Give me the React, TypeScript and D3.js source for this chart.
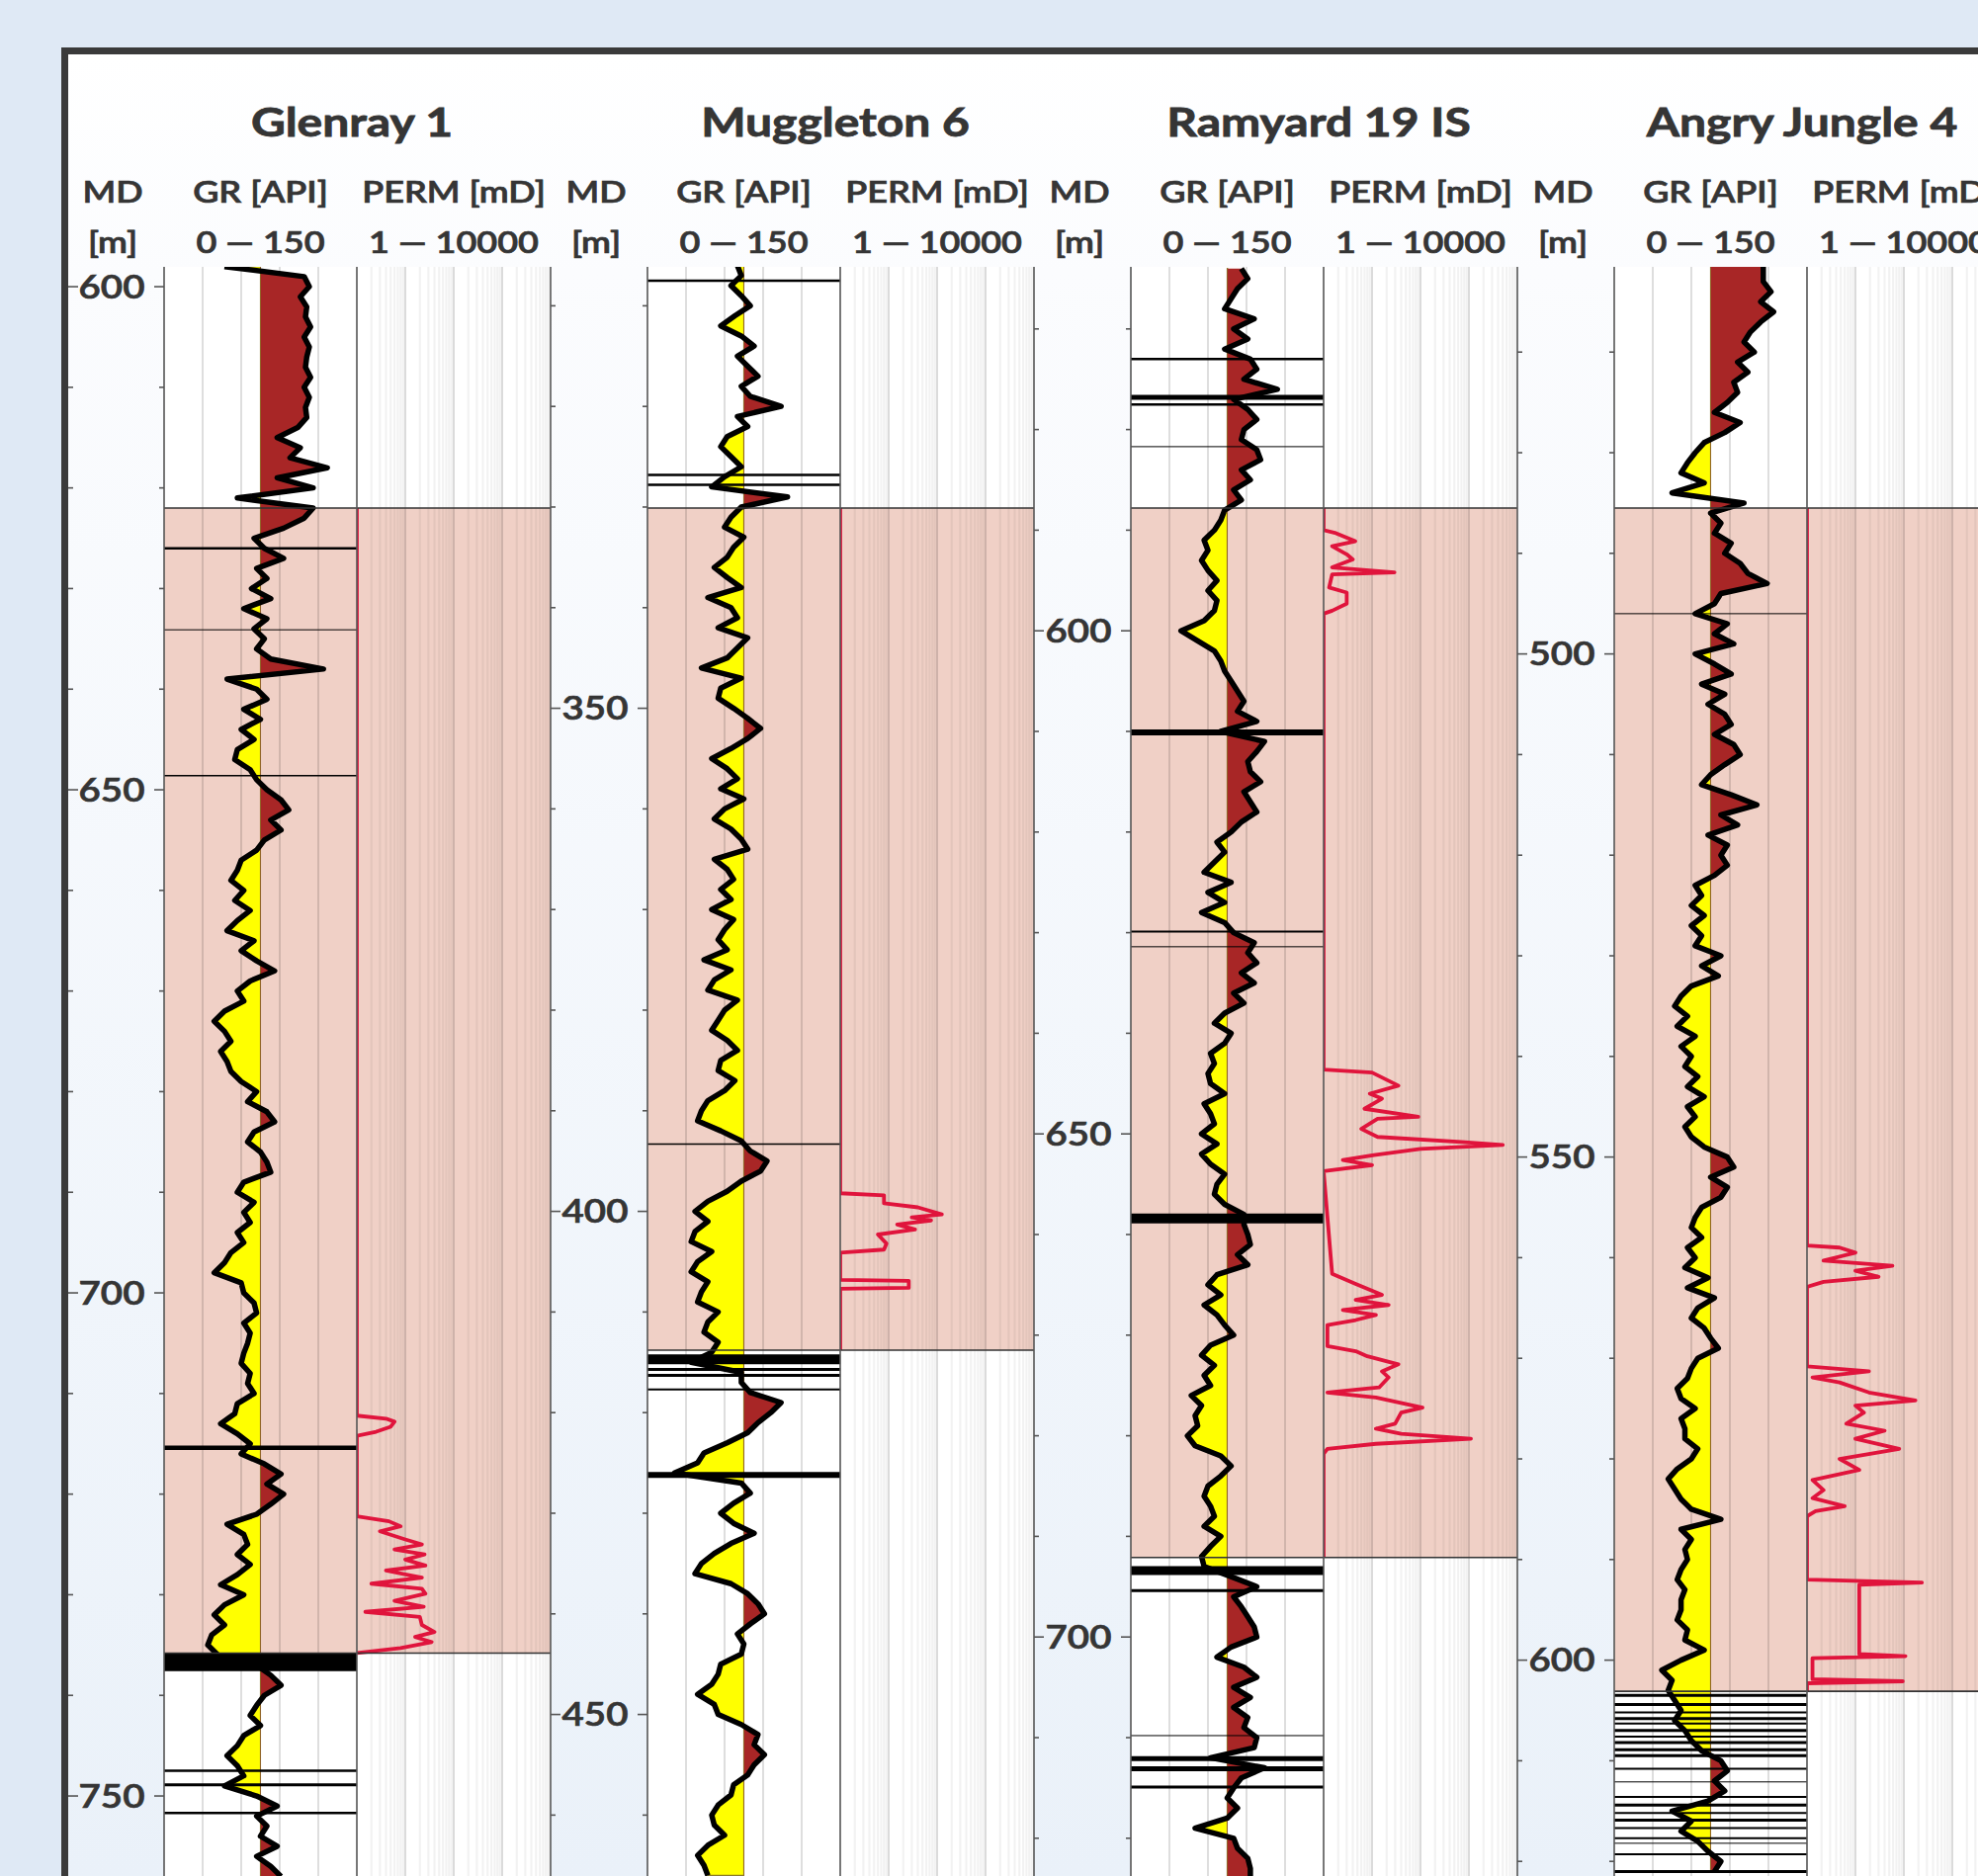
import React from "react";
import * as d3 from "d3";

// ---------------- data ----------------
const wellNames = ["Glenray 1", "Muggleton 6", "Ramyard 19 IS", "Angry Jungle 4"];
// depth (m MD) of the flattened reservoir top, and of its base
const zoneTopDepth = [622.0, 330.1, 587.8, 485.5];
const zoneBaseDepth = [735.8, 413.8, 692.1, 603.1];
// GR logs sampled every metre, starting at these depths
const grStartDepth = [598, 306, 564, 461];
const grStep = 1;

const glenrayGR = [
  47, 109, 113, 106, 111, 110, 114, 109, 113, 111, 110, 114, 109, 113, 110, 111, 104, 88, 106, 98,
  127, 88, 116, 57, 116, 109, 93, 70, 78, 93, 72, 80, 68, 83, 62, 80, 70, 78, 72, 83,
  124, 49, 72, 80, 62, 75, 60, 70, 57, 55, 67, 72, 80, 91, 97, 83, 91, 78, 72, 60,
  57, 52, 62, 55, 67, 57, 49, 70, 60, 72, 86, 67, 57, 62, 47, 39, 47, 52, 44, 49,
  52, 60, 72, 65, 80, 86, 70, 65, 75, 80, 83, 62, 57, 70, 62, 67, 57, 62, 52, 47,
  39, 60, 62, 70, 72, 62, 67, 65, 62, 60, 67, 65, 70, 57, 55, 44, 57, 67, 60, 78,
  91, 80, 93, 83, 72, 49, 62, 65, 57, 67, 57, 44, 62, 47, 39, 47, 37, 34, 42, 72,
  83, 91, 78, 72, 67, 75, 62, 57, 49, 57, 62, 47, 72, 88, 72, 80, 75, 88, 72, 83, 91,
];
const muggletonGR = [
  70, 73, 65, 73, 80, 68, 57, 73, 83, 70, 78, 86, 73, 80, 104, 70, 78, 62, 57, 65,
  73, 60, 50, 109, 73, 65, 60, 75, 67, 62, 52, 62, 73, 47, 65, 70, 55, 78, 70, 62,
  42, 73, 57, 55, 67, 78, 88, 78, 65, 50, 62, 70, 57, 75, 60, 52, 65, 73, 78, 52,
  62, 67, 57, 65, 50, 67, 60, 55, 62, 44, 65, 52, 47, 70, 60, 55, 50, 62, 70, 57,
  55, 68, 60, 47, 42, 39, 57, 73, 80, 93, 88, 73, 62, 47, 37, 47, 37, 34, 50, 39,
  34, 47, 42, 39, 55, 47, 44, 55, 50, 34, 73, 73, 80, 104, 96, 86, 78, 62, 44, 39,
  21, 73, 80, 67, 57, 67, 83, 65, 52, 42, 37, 65, 78, 86, 91, 80, 70, 75, 73, 57,
  55, 50, 39, 52, 55, 73, 86, 83, 91, 83, 78, 67, 65, 55, 50, 52, 60, 47, 39, 44, 47,
];
const ramyardGR = [
  86, 91, 83, 78, 73, 96, 80, 91, 73, 93, 98, 88, 114, 80, 91, 98, 88, 86, 98, 101,
  86, 93, 80, 86, 73, 70, 65, 57, 60, 55, 60, 67, 60, 67, 65, 57, 39, 52, 65, 70,
  73, 78, 83, 88, 83, 98, 70, 104, 98, 91, 93, 101, 88, 93, 98, 86, 78, 67, 73, 65,
  57, 78, 60, 73, 55, 73, 80, 96, 91, 98, 86, 96, 80, 88, 73, 65, 78, 73, 62, 65,
  60, 62, 73, 57, 62, 65, 55, 67, 55, 62, 73, 67, 65, 73, 88, 88, 91, 93, 83, 91,
  67, 60, 70, 57, 67, 73, 80, 62, 55, 65, 57, 62, 47, 55, 50, 52, 44, 50, 70, 78,
  70, 60, 57, 62, 65, 57, 70, 62, 55, 57, 78, 98, 80, 86, 91, 96, 98, 78, 67, 88,
  98, 80, 93, 80, 91, 88, 98, 96, 62, 104, 86, 80, 75, 83, 75, 50, 80, 83, 91, 93, 93,
];
const angryJungleGR = [
  116, 116, 116, 122, 114, 124, 114, 106, 101, 109, 96, 104, 93, 96, 88, 78, 98, 86, 70, 63,
  57, 52, 70, 45, 101, 75, 83, 78, 91, 86, 98, 104, 119, 83, 78, 63, 88, 78, 93, 63,
  78, 91, 68, 86, 73, 86, 91, 78, 93, 98, 86, 75, 68, 91, 111, 83, 96, 73, 88, 83,
  88, 78, 63, 68, 60, 70, 60, 68, 63, 83, 68, 81, 60, 52, 47, 57, 49, 63, 52, 60,
  55, 65, 57, 70, 57, 63, 55, 60, 70, 88, 93, 75, 88, 83, 68, 63, 60, 68, 57, 63,
  55, 73, 57, 78, 65, 60, 70, 75, 81, 65, 60, 57, 49, 52, 63, 52, 55, 55, 65, 60,
  49, 42, 47, 52, 60, 83, 52, 60, 55, 57, 52, 49, 55, 52, 52, 49, 57, 55, 70, 52,
  37, 45, 42, 47, 52, 47, 55, 60, 68, 83, 88, 78, 86, 73, 45, 60, 52, 65, 73, 83, 78,
];

// permeability curves: [depth m, perm mD]
const glenrayPerm: [number, number][] = [
  [622.0, 1], [712.2, 1], [712.5, 4], [712.8, 6], [713.3, 5], [713.8, 2.5], [714.2, 1], [722.2, 1],
  [722.7, 4.6], [723.2, 8], [723.7, 3], [724.5, 10], [725.0, 22], [725.5, 6], [726.0, 25], [726.5, 10],
  [727.1, 26], [727.6, 4], [728.3, 22], [728.9, 2], [729.4, 22], [729.9, 26], [730.6, 6], [731.2, 24],
  [731.7, 1.5], [732.2, 20], [733.0, 22], [733.7, 40], [734.2, 16], [734.7, 35], [735.3, 8], [735.8, 1],
];
const muggletonPerm: [number, number][] = [
  [330.1, 1], [398.2, 1], [398.4, 8], [399.2, 8], [399.6, 40], [400.3, 125], [400.6, 30], [400.9, 75],
  [401.3, 15], [401.8, 35], [402.3, 6], [403.2, 9], [403.8, 8], [404.1, 1], [406.8, 1], [406.9, 26],
  [407.6, 26], [407.7, 1], [413.8, 1],
];
const ramyardPerm: [number, number][] = [
  [587.8, 1], [590.0, 1], [590.3, 1.8], [591.1, 4.5], [591.6, 1.5], [592.4, 3], [592.9, 4], [593.7, 1.5],
  [594.2, 29], [594.4, 1.5], [595.7, 1.3], [596.2, 3], [597.3, 3], [598.0, 1.5], [598.3, 1],
  [643.6, 1], [643.9, 10], [645.2, 35], [646.0, 9], [646.5, 16], [647.5, 7], [648.3, 90], [648.5, 13],
  [649.5, 6], [650.3, 13], [650.8, 700], [651.1, 5000], [651.5, 100], [652.1, 11], [652.6, 2.5],
  [653.1, 10], [653.7, 1], [663.9, 1.5], [664.9, 4.6], [666.0, 16], [666.5, 4.6], [667.0, 22],
  [667.5, 2.5], [668.0, 12], [668.5, 4.6], [669.0, 1.2], [671.1, 1.2], [671.6, 4.6], [672.1, 8],
  [672.9, 35], [673.6, 16], [674.2, 22], [675.2, 14], [675.7, 1.2], [676.2, 12], [677.2, 110],
  [677.7, 40], [678.8, 30], [679.3, 12], [679.8, 40], [680.3, 1100], [680.8, 12], [681.3, 1.2],
  [681.8, 1], [692.1, 1],
];
const angryJunglePerm: [number, number][] = [
  [485.5, 1], [558.8, 1], [559.0, 4.7], [559.5, 10], [560.3, 2.2], [560.8, 58], [561.3, 10], [561.9, 30],
  [562.4, 2.2], [562.9, 1], [570.8, 1], [571.3, 19], [571.9, 1.3], [572.4, 4.7], [573.4, 19], [574.2, 173],
  [574.7, 10], [575.4, 15], [576.5, 6.5], [577.2, 40], [578.0, 10], [579.0, 80], [580.0, 4.7], [581.1, 12],
  [582.1, 1.3], [583.1, 2.2], [583.9, 1.3], [584.7, 6], [585.2, 1.5], [585.7, 1], [592.0, 1], [592.3, 236],
  [592.5, 12], [599.4, 12], [599.6, 108], [599.8, 1.3], [601.9, 1.3], [602.1, 95], [602.3, 1], [603.1, 1],
];

// horizontal marker lines in the GR track: [depth m, thickness px]
const glenrayMarkers: [number, number][] = [
  [626.0, 2.5], [634.1, 1], [648.6, 1.5], [715.4, 4.5], [736.7, 18], [747.5, 2.5], [748.9, 3], [751.7, 2.5],
];
const muggletonMarkers: [number, number][] = [
  [307.5, 2.5], [326.8, 2.5], [327.8, 2.5], [393.3, 1.5], [414.7, 10], [415.7, 3], [416.3, 3], [417.7, 2], [426.2, 6],
];
const ramyardMarkers: [number, number][] = [
  [573.0, 2.5], [576.8, 5], [577.5, 2.5], [581.7, 1], [610.1, 6], [629.9, 2], [631.4, 1], [658.4, 10],
  [693.4, 9], [695.4, 3], [709.8, 1], [712.1, 5], [713.1, 5], [714.9, 3],
];
const angryJungleMarkers: [number, number][] = [
  [496.0, 1], [603.5, 3], [604.4, 3], [605.2, 2], [605.8, 3], [606.3, 2], [607.0, 3], [607.6, 2], [608.2, 3],
  [608.9, 3], [609.5, 3], [610.8, 2], [612.1, 1], [613.6, 2], [614.4, 3], [615.2, 2], [615.9, 3], [616.7, 2],
  [617.7, 2], [618.2, 1], [619.3, 2], [621.0, 3],
];

const grSeries = [glenrayGR, muggletonGR, ramyardGR, angryJungleGR];
const permSeries = [glenrayPerm, muggletonPerm, ramyardPerm, angryJunglePerm];
const markerSeries = [glenrayMarkers, muggletonMarkers, ramyardMarkers, angryJungleMarkers];

const mdHeader = ["MD", "[m]"];
const grHeader = ["GR [API]", "0 \u2014 150"];
const permHeader = ["PERM [mD]", "1 \u2014 10000"];
const grDomain = [0, 150];
const grGridValues = [30, 60, 90, 120];
const grCutoff = 75;
const permDomain = [1, 10000];
const mdMinorStep = 10;
const mdMajorStep = 50;

// ---------------- layout ----------------
const W = 2001;
const H = 1898;
const X0 = 68;
const PERIOD = 489;
const MD_W = 98;
const GR_W = 195;
const PERM_W = 196;
const TRACK_TOP = 270;
const FLAT_Y = 514;
const PX_PER_M = 10.18;
const SX = 1.2;
const TEXT = "#353535";
const FONT = "Lato, 'Open Sans', 'DejaVu Sans', sans-serif";

function T({ x, y, size, weight = 400, halo = 0, children }: any) {
  return (
    <text
      transform={`translate(${x},${y}) scale(${SX},1)`}
      textAnchor="middle"
      fontSize={size}
      fontWeight={weight}
      fill={TEXT}
      stroke={halo > 0 ? TEXT : "none"}
      strokeWidth={halo}
      fontFamily={FONT}
    >
      {children}
    </text>
  );
}

function Well({ i }: { i: number }) {
  const mdLeft = X0 + i * PERIOD;
  const grLeft = mdLeft + MD_W;
  const permLeft = grLeft + GR_W;
  const permRight = permLeft + PERM_W;
  const top = zoneTopDepth[i];
  const base = zoneBaseDepth[i];

  const y = d3.scaleLinear().domain([top, top + 100]).range([FLAT_Y, FLAT_Y + 100 * PX_PER_M]);
  const topDepth = y.invert(TRACK_TOP);
  const botDepth = y.invert(H);
  const xg = d3.scaleLinear().domain(grDomain).range([grLeft, permLeft]);
  const xp = d3.scaleLog().domain(permDomain).range([permLeft, permRight]);

  const grPts: [number, number][] = grSeries[i].map((v, k) => [grStartDepth[i] + k * grStep, v]);
  const xc = xg(grCutoff);
  const area = d3
    .area<[number, number]>()
    .x0(xc)
    .x1((d) => xg(d[1]))
    .y((d) => y(d[0]));
  const line = d3
    .line<[number, number]>()
    .x((d) => xg(d[1]))
    .y((d) => y(d[0]));
  const pline = d3
    .line<[number, number]>()
    .x((d) => xp(d[1]))
    .y((d) => y(d[0]));

  const ticks = d3.range(Math.ceil(topDepth / mdMinorStep) * mdMinorStep, botDepth, mdMinorStep);
  const minorPerm: number[] = [];
  const decades: number[] = [];
  for (let k = 0; k < 4; k++) {
    if (k > 0) decades.push(Math.pow(10, k));
    for (let m = 2; m <= 9; m++) minorPerm.push(m * Math.pow(10, k));
  }
  const mdLabelX = mdLeft + MD_W / 2 - 4;
  const trackH = H - TRACK_TOP;

  return (
    <g>
      <defs>
        <clipPath id={`gr-${i}`}>
          <rect x={grLeft} y={TRACK_TOP} width={GR_W} height={trackH} />
        </clipPath>
        <clipPath id={`yel-${i}`}>
          <rect x={grLeft} y={TRACK_TOP} width={xc - grLeft + 0.8} height={trackH} />
        </clipPath>
        <clipPath id={`red-${i}`}>
          <rect x={xc} y={TRACK_TOP} width={permLeft - xc} height={trackH} />
        </clipPath>
        <clipPath id={`perm-${i}`}>
          <rect x={permLeft} y={TRACK_TOP} width={PERM_W} height={trackH} />
        </clipPath>
      </defs>

      {/* track backgrounds */}
      <rect x={grLeft} y={TRACK_TOP} width={GR_W + PERM_W} height={trackH} fill="#ffffff" />
      <rect x={grLeft} y={y(top)} width={GR_W + PERM_W} height={y(base) - y(top)} fill="#f0d0c6" />

      {/* grids */}
      {grGridValues.map((v) => (
        <line key={`g${v}`} x1={xg(v)} x2={xg(v)} y1={TRACK_TOP} y2={H} stroke="rgba(0,0,0,0.13)" strokeWidth={2} />
      ))}
      {minorPerm.map((v) => (
        <line key={`pm${v}`} x1={xp(v)} x2={xp(v)} y1={TRACK_TOP} y2={H} stroke="rgba(0,0,0,0.05)" strokeWidth={2.2} />
      ))}
      {decades.map((v) => (
        <line key={`pd${v}`} x1={xp(v)} x2={xp(v)} y1={TRACK_TOP} y2={H} stroke="rgba(0,0,0,0.16)" strokeWidth={1.8} />
      ))}

      {/* GR fills */}
      <g clipPath={`url(#yel-${i})`}>
        <path d={area(grPts) || ""} fill="#ffff00" stroke="#8a7b2a" strokeWidth={1.2} />
      </g>
      <g clipPath={`url(#red-${i})`}>
        <path d={area(grPts) || ""} fill="#a82626" />
      </g>

      {/* markers */}
      {markerSeries[i].map(([d, t], k) => (
        <line key={`m${k}`} x1={grLeft} x2={permLeft} y1={y(d)} y2={y(d)} stroke="#000" strokeWidth={t} />
      ))}

      {/* GR curve */}
      <g clipPath={`url(#gr-${i})`}>
        <path d={line(grPts) || ""} fill="none" stroke="#000" strokeWidth={5.5} strokeLinejoin="round" />
      </g>

      {/* perm curve */}
      <g clipPath={`url(#perm-${i})`}>
        <path d={pline(permSeries[i]) || ""} fill="none" stroke="#e0143c" strokeWidth={3.8} strokeLinejoin="round" />
      </g>

      {/* zone top / base */}
      <line x1={grLeft} x2={permRight} y1={y(top)} y2={y(top)} stroke="#333" strokeWidth={1.6} />
      <line x1={grLeft} x2={permRight} y1={y(base)} y2={y(base)} stroke="#333" strokeWidth={1.6} />

      {/* track borders */}
      {[grLeft, permLeft, permRight].map((x) => (
        <line key={`b${x}`} x1={x} x2={x} y1={TRACK_TOP} y2={H} stroke="#555" strokeWidth={1.6} />
      ))}

      {/* MD axis ticks and labels */}
      {ticks.map((d) => {
        const major = Math.round(d) % mdMajorStep === 0;
        const len = major ? 10 : 5;
        const yy = y(d);
        const lx = i === 0 ? mdLeft + 1 : mdLeft;
        return (
          <g key={`t${d}`}>
            <line x1={lx} x2={lx + len} y1={yy} y2={yy} stroke="#555" strokeWidth={1.6} />
            <line x1={grLeft - len} x2={grLeft} y1={yy} y2={yy} stroke="#555" strokeWidth={1.6} />
            {major && (
              <T x={mdLabelX} y={yy + 11.5} size={32} weight={600} halo={0.7}>
                {String(Math.round(d))}
              </T>
            )}
          </g>
        );
      })}

      {/* headers */}
      <T x={permLeft - 5} y={138} size={40} weight={700} halo={0.8}>
        {wellNames[i]}
      </T>
      <T x={mdLeft + MD_W / 2 - 3} y={205} size={30} weight={600} halo={0.7}>
        {mdHeader[0]}
      </T>
      <T x={mdLeft + MD_W / 2 - 3} y={256} size={30} weight={600} halo={0.7}>
        {mdHeader[1]}
      </T>
      <T x={grLeft + GR_W / 2} y={205} size={30} weight={600} halo={0.7}>
        {grHeader[0]}
      </T>
      <T x={grLeft + GR_W / 2} y={256} size={30} weight={600} halo={0.7}>
        {grHeader[1]}
      </T>
      <T x={permLeft + PERM_W / 2} y={205} size={30} weight={600} halo={0.7}>
        {permHeader[0]}
      </T>
      <T x={permLeft + PERM_W / 2} y={256} size={30} weight={600} halo={0.7}>
        {permHeader[1]}
      </T>
    </g>
  );
}

export default function App() {
  return (
    <svg
      width={W}
      height={H}
      viewBox={`0 0 ${W} ${H}`}
      style={{ position: "absolute", left: 0, top: 0, display: "block" }}
    >
      <defs>
        <linearGradient id="panelBg" gradientUnits="userSpaceOnUse" x1="0" y1="55" x2="0" y2={H}>
          <stop offset="0" stopColor="#ffffff" />
          <stop offset="0.12" stopColor="#fbfcfe" />
          <stop offset="1" stopColor="#eaf1f9" />
        </linearGradient>
      </defs>
      <rect x={0} y={0} width={W} height={H} fill="#dfe9f5" />
      <rect x={65.5} y={51.5} width={W} height={H} fill="url(#panelBg)" stroke="#3a3a3a" strokeWidth={7} />
      {wellNames.map((_, i) => (
        <Well key={i} i={i} />
      ))}
    </svg>
  );
}
